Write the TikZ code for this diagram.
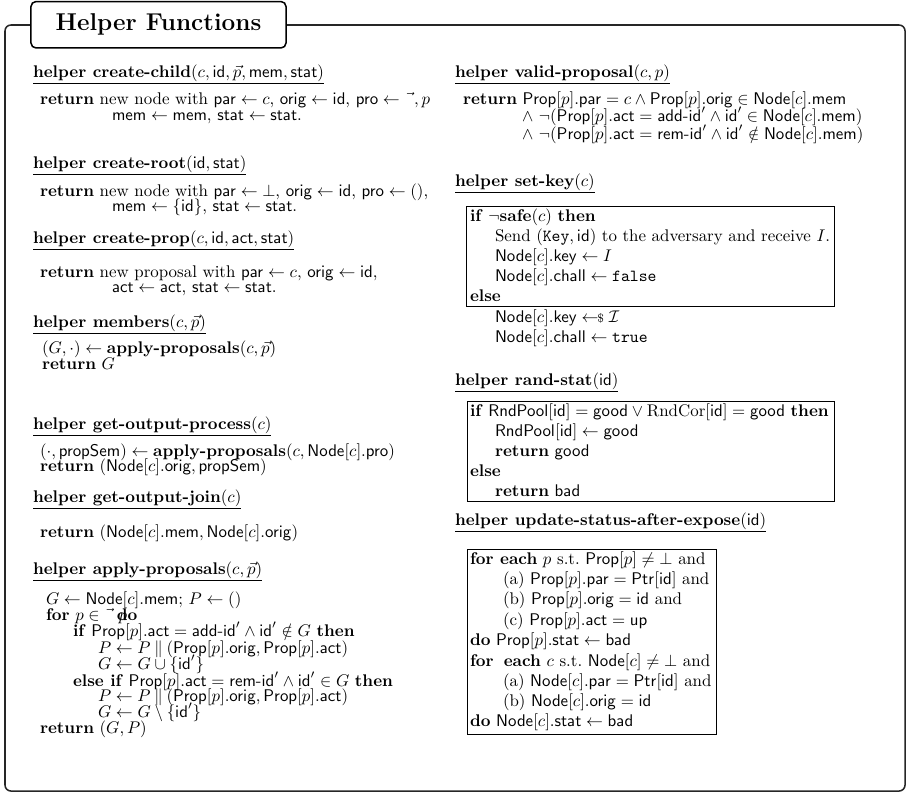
\documentclass[tikz,border=0pt]{standalone}
\usepackage{amsmath}
\newcommand{\sfv}[1]{\mathsf{#1}}
\newcommand{\kw}[1]{\textbf{#1}}
\newcommand{\idp}{\sfv{id}'}
\newcommand{\Prop}[1][p]{\sfv{Prop}[#1]}
\newcommand{\Nd}[1][c]{\sfv{Node}[#1]}
\tikzset{
  codeline/.style={anchor=base west, inner sep=0pt, outer sep=0pt, text height=6.8pt, text depth=1.8pt},
  helperhead/.style={codeline},
  algbox/.style={draw, line width=0.5pt},
  frame/.style={draw=black!85, line width=0.9pt, rounded corners=3.5pt},
}
\begin{document}
\begin{tikzpicture}[x=0.592pt, y=-0.592pt]
  \useasboundingbox (0,0) rectangle (914,798);
  % outer frame and title
  \draw[frame] (5,25) rectangle (905,791);
  \node[draw, fill=white, line width=0.9pt, rounded corners=3pt, minimum width=151pt, minimum height=27.5pt,
        font=\Large\bfseries] (title) at (158.5,24.75) {Helper Functions};

  % left column
  \node[helperhead] (cch) at (33,77) {\underline{\kw{helper create-child}$(c,\sfv{id},\vec{p},\sfv{mem},\sfv{stat})$}};
  \node[codeline] (cc1) at (40,104) {\kw{return} new node with $\sfv{par}\leftarrow c$, $\sfv{orig}\leftarrow\sfv{id}$, $\sfv{pro}\leftarrow\vec{\phantom{x}}, p$};
  \node[codeline] (cc2) at (112,120) {$\sfv{mem}\leftarrow\sfv{mem}$, $\sfv{stat}\leftarrow\sfv{stat}$.};

  \node[helperhead] (crh) at (33,168) {\underline{\kw{helper create-root}$(\sfv{id},\sfv{stat})$}};
  \node[codeline] (cr1) at (40,196) {\kw{return} new node with $\sfv{par}\leftarrow\bot$, $\sfv{orig}\leftarrow\sfv{id}$, $\sfv{pro}\leftarrow()$,};
  \node[codeline] (cr2) at (112,211) {$\sfv{mem}\leftarrow\{\sfv{id}\}$, $\sfv{stat}\leftarrow\sfv{stat}$.};

  \node[helperhead] (cph) at (33,243) {\underline{\kw{helper create-prop}$(c,\sfv{id},\sfv{act},\sfv{stat})$}};
  \node[codeline] (cp1) at (40,277) {\kw{return} new proposal with $\sfv{par}\leftarrow c$, $\sfv{orig}\leftarrow\sfv{id}$,};
  \node[codeline] (cp2) at (112,292) {$\sfv{act}\leftarrow\sfv{act}$, $\sfv{stat}\leftarrow\sfv{stat}$.};

  \node[helperhead] (mbh) at (33,327) {\underline{\kw{helper members}$(c,\vec{p})$}};
  \node[codeline] (mb1) at (42,353) {$(G,\cdot)\leftarrow\kw{apply-proposals}(c,\vec{p})$};
  \node[codeline] (mb2) at (42,369) {\kw{return} $G$};

  \node[helperhead] (gph) at (33,429) {\underline{\kw{helper get-output-process}$(c)$}};
  \node[codeline] (gp1) at (40,456) {$(\cdot,\sfv{propSem})\leftarrow\kw{apply-proposals}(c,\Nd.\sfv{pro})$};
  \node[codeline] (gp2) at (40,471) {\kw{return} $(\Nd.\sfv{orig},\sfv{propSem})$};

  \node[helperhead] (gjh) at (33,502) {\underline{\kw{helper get-output-join}$(c)$}};
  \node[codeline] (gj1) at (40,537) {\kw{return} $(\Nd.\sfv{mem},\Nd.\sfv{orig})$};

  \node[helperhead] (aph) at (33,574) {\underline{\kw{helper apply-proposals}$(c,\vec{p})$}};
  \node[codeline] (ap1) at (46,604) {$G\leftarrow\Nd.\sfv{mem}$; $P\leftarrow()$};
  \node[codeline] (ap2) at (46,620) {\kw{for} $p\in\vec{\phantom{x}}\,$\rlap{\kern1pt$p$}\kw{do}};
  \node[codeline] (ap3) at (73,636) {\kw{if} $\Prop.\sfv{act}=\textsf{add-id}'\wedge\idp\notin G$ \kw{then}};
  \node[codeline] (ap4) at (98,653) {$P\leftarrow P\mathbin\Vert(\Prop.\sfv{orig},\Prop.\sfv{act})$};
  \node[codeline] (ap5) at (98,669) {$G\leftarrow G\cup\{\idp\}$};
  \node[codeline] (ap6) at (73,686) {\kw{else if} $\Prop.\sfv{act}=\textsf{rem-id}'\wedge\idp\in G$ \kw{then}};
  \node[codeline] (ap7) at (98,701) {$P\leftarrow P\mathbin\Vert(\Prop.\sfv{orig},\Prop.\sfv{act})$};
  \node[codeline] (ap8) at (98,717) {$G\leftarrow G\setminus\{\idp\}$};
  \node[codeline] (ap9) at (40,733) {\kw{return} $(G,P)$};

  % right column
  \node[helperhead] (vph) at (455,77) {\underline{\kw{helper valid-proposal}$(c,p)$}};
  \node[codeline] (vp1) at (463,104) {\kw{return} $\Prop.\sfv{par}=c\wedge\Prop.\sfv{orig}\in\Nd.\sfv{mem}$};
  \node[codeline] (vp2) at (522,121) {$\wedge\ \neg(\Prop.\sfv{act}=\textsf{add-id}'\wedge\idp\in\Nd.\sfv{mem})$};
  \node[codeline] (vp3) at (522,139) {$\wedge\ \neg(\Prop.\sfv{act}=\textsf{rem-id}'\wedge\idp\notin\Nd.\sfv{mem})$};

  \node[helperhead] (skh) at (455,186) {\underline{\kw{helper set-key}$(c)$}};
  \draw[algbox] (466,206) rectangle (834,306);
  \node[codeline] (sk1) at (470,221) {\kw{if} $\neg\kw{safe}(c)$ \kw{then}};
  \node[codeline] (sk2) at (495,241) {Send $(\texttt{Key},\sfv{id})$ to the adversary and receive $I$.};
  \node[codeline] (sk3) at (495,261) {$\Nd.\sfv{key}\leftarrow I$};
  \node[codeline] (sk4) at (495,281) {$\Nd.\sfv{chall}\leftarrow\texttt{false}$};
  \node[codeline] (sk5) at (470,301) {\kw{else}};
  \node[codeline] (sk6) at (495,322) {$\Nd.\sfv{key}\leftarrow\!\!{\scriptstyle\$}\;\mathcal{I}$};
  \node[codeline] (sk7) at (495,342) {$\Nd.\sfv{chall}\leftarrow\texttt{true}$};

  \node[helperhead] (rsh) at (455,385) {\underline{\kw{helper rand-stat}$(\sfv{id})$}};
  \draw[algbox] (467,401) rectangle (834,501);
  \node[codeline] (rs1) at (470,416) {\kw{if} $\sfv{RndPool}[\sfv{id}]=\sfv{good}\vee\mathrm{RndCor}[\sfv{id}]=\sfv{good}$ \kw{then}};
  \node[codeline] (rs2) at (495,436) {$\sfv{RndPool}[\sfv{id}]\leftarrow\sfv{good}$};
  \node[codeline] (rs3) at (495,456) {\kw{return} $\sfv{good}$};
  \node[codeline] (rs4) at (470,476) {\kw{else}};
  \node[codeline] (rs5) at (495,496) {\kw{return} $\sfv{bad}$};

  \node[helperhead] (ush) at (455,525) {\underline{\kw{helper update-status-after-expose}$(\sfv{id})$}};
  \draw[algbox] (467,549) rectangle (716,734);
  \node[codeline] (us1) at (470,564) {\kw{for each} $p$ s.t.\ $\Prop\neq\bot$ and};
  \node[codeline] (us2) at (503,584) {(a) $\Prop.\sfv{par}=\sfv{Ptr}[\sfv{id}]$ and};
  \node[codeline] (us3) at (503,604) {(b) $\Prop.\sfv{orig}=\sfv{id}$ and};
  \node[codeline] (us4) at (503,625) {(c) $\Prop.\sfv{act}=\sfv{up}$};
  \node[codeline] (us5) at (470,645) {\kw{do} $\Prop.\sfv{stat}\leftarrow\sfv{bad}$};
  \node[codeline] (us6) at (470,666) {\kw{for}\hspace{6pt}\kw{each} $c$ s.t.\ $\Nd\neq\bot$ and};
  \node[codeline] (us7) at (503,686) {(a) $\Nd.\sfv{par}=\sfv{Ptr}[\sfv{id}]$ and};
  \node[codeline] (us8) at (503,706) {(b) $\Nd.\sfv{orig}=\sfv{id}$};
  \node[codeline] (us9) at (470,726) {\kw{do} $\Nd.\sfv{stat}\leftarrow\sfv{bad}$};
\end{tikzpicture}
\end{document}
